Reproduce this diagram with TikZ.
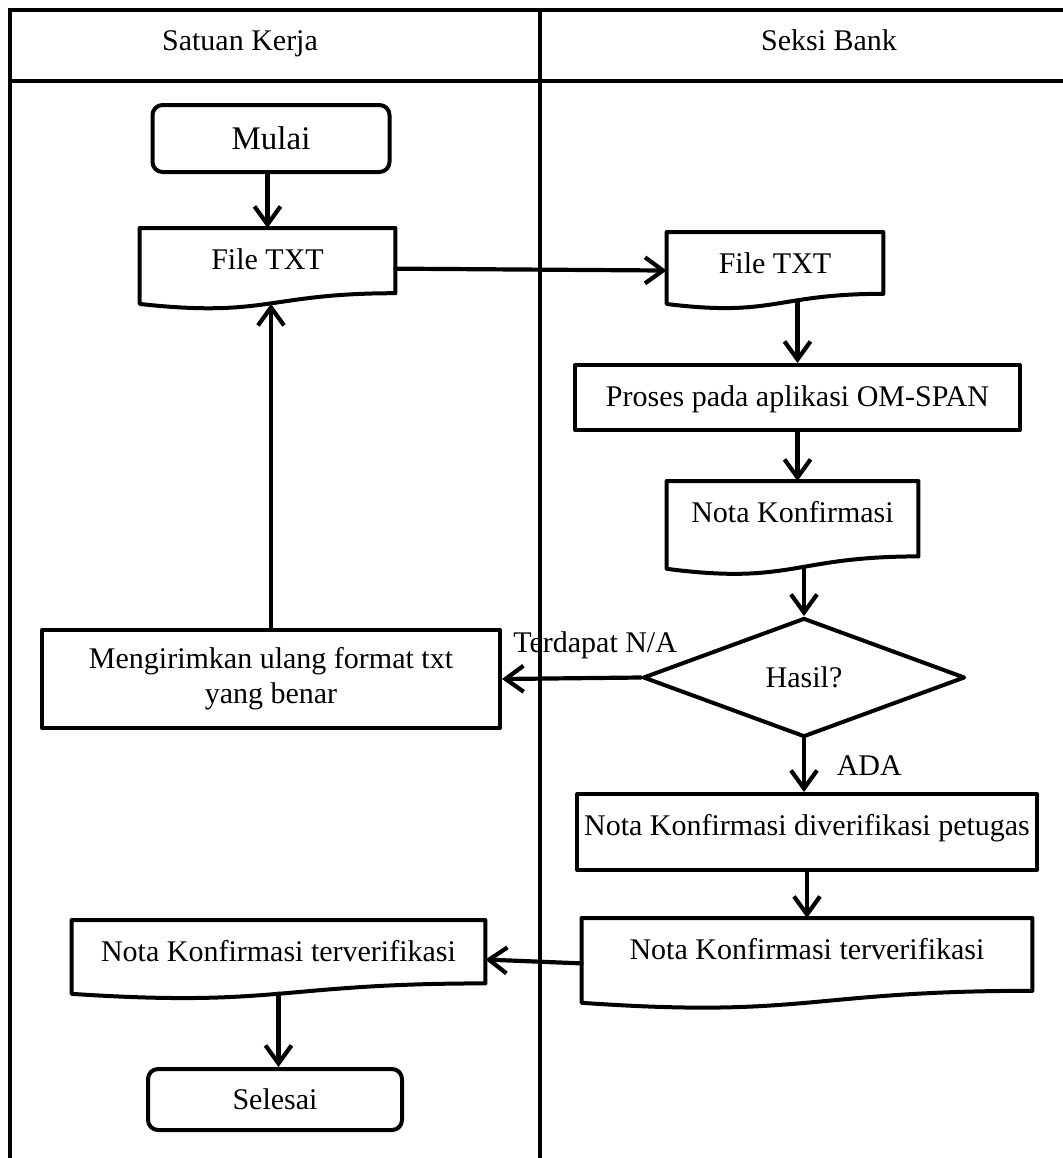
\documentclass[tikz,border=0pt]{standalone}
\usepackage{fontspec}
\setmainfont{Liberation Serif}
\usetikzlibrary{shapes.geometric,arrows.meta,calc}

\tikzset{
  lane/.style={line width=2.3pt},
  shp/.style={draw, line width=2pt, line join=round},
  toptxt/.style={inner ysep=0pt, text height=20.5pt, text depth=#1, anchor=north},
  doc/.style={toptxt=#1},
  proc/.style={shp, toptxt=#1},
  term/.style={shp, rounded corners=5pt, anchor=north},
  arr/.style={line width=2.1pt, line cap=round, -{Straight Barb[length=9pt,width=13pt]}}
}

\begin{document}
\begin{tikzpicture}[x=0.5pt, y=-0.5pt, every node/.style={font=\fontsize{15}{17.5}\selectfont}]
    \useasboundingbox (0,0) rectangle (1063,1158);

    % swimlanes
    \draw[lane] (1063,10) -- (10,10) -- (10,1158);
    \draw[lane] (10,81) -- (1063,81);
    \draw[lane] (540,10) -- (540,1158);
    \node[anchor=base] (hdsk) at (240,50) {Satuan Kerja};
    \node[anchor=base] (hdsb) at (829,50) {Seksi Bank};

    % Satuan Kerja
    \node[term, minimum width=118.5pt, minimum height=33.5pt, font=\fontsize{16.5}{19}\selectfont] (mulai) at (271,103) {Mulai};
    \node[doc=11.7pt, minimum width=127.5pt] (ftxta) at (267.5,228) {File TXT};
    \node[shp, minimum width=229pt, minimum height=49pt, align=center] (ulang) at (271,679) {Mengirimkan ulang format txt\\yang benar};
    \node[doc=10.8pt, minimum width=206.5pt] (notaa) at (278.5,920) {Nota Konfirmasi terverifikasi};
    \node[term, minimum width=127pt, minimum height=30.5pt] (selesai) at (275,1067) {Selesai};

    % Seksi Bank
    \node[doc=10pt, minimum width=108pt] (ftxtb) at (775,232) {File TXT};
    \node[proc=12pt, minimum width=222.5pt] (proses) at (797.5,363) {Proses pada aplikasi OM-SPAN};
    \node[doc=16.8pt, minimum width=125.5pt] (nota) at (792.5,481) {Nota Konfirmasi};
    \node[shp, diamond, minimum width=161pt, minimum height=59.5pt, inner sep=0pt] (hasil) at (804,677.5) {Hasil?};
    \node[proc=17.5pt, minimum width=225pt] (diverif) at (807,792) {Nota Konfirmasi diverifikasi petugas};
    \node[doc=15.5pt, minimum width=225pt] (notab) at (807,918) {Nota Konfirmasi terverifikasi};

    % document outlines with wavy bottom
    \foreach \d in {ftxta,ftxtb,nota,notaa,notab} {
        \draw[shp] (\d.north west) -- (\d.north east) -- (\d.south east) .. controls (\d.south) and ($(\d.north)!1.381!(\d.south)$) .. ($(\d.north west)!1.1646!(\d.south west)$) -- cycle;
        \coordinate (\d-b) at ($(\d.north)!1.163!(\d.south)$);
        \coordinate (\d-e) at ($(\d.north east)!0.6234!(\d.south east)$);
        \coordinate (\d-w) at ($(\d.north west)!0.6234!(\d.south west)$);
    }

    % flow
    \draw[arr] (ftxta.north |- mulai.south) -- (ftxta.north);
    \draw[arr] (ftxta-e) -- (ftxtb-w);
    \draw[arr, shorten <=-1.5pt] (proses.north |- ftxtb-b) -- (proses.north);
    \draw[arr] (proses.south) -- (proses.south |- nota.north);
    \draw[arr, shorten <=-0.8pt] (hasil.north |- nota-b) -- (hasil.north);
    \draw[arr] (hasil.west) -- node[above=5pt, pos=0.33] (lbna) {Terdapat N/A} (ulang.east);
    \draw[arr] (ulang.north) -- (ulang.north |- ftxta-b);
    \draw[arr] (hasil.south) -- node[right=12pt] (lbada) {ADA} (hasil.south |- diverif.north);
    \draw[arr] (diverif.south) -- (diverif.south |- notab.north);
    \draw[arr] (notab-w) -- (notaa-e);
    \draw[arr] (notaa-b) -- (notaa-b |- selesai.north);
\end{tikzpicture}
\end{document}
